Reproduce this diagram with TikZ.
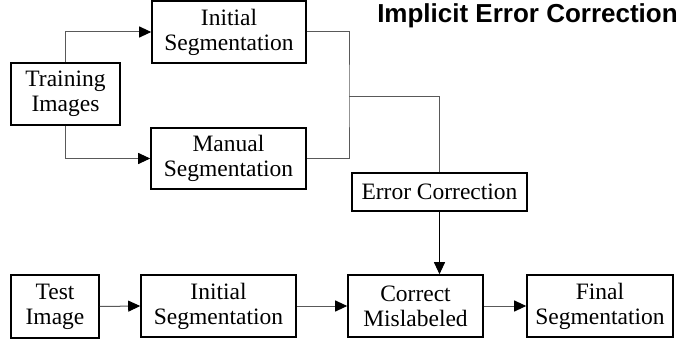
\documentclass[tikz,border=0pt]{standalone}
\usepackage{fontspec}
\setmainfont{Liberation Serif}
\newfontfamily\titlefont{Liberation Sans}
\usetikzlibrary{arrows.meta}
\begin{document}
\begin{tikzpicture}[x=1pt,y=-1pt,
  box/.style={draw=black,line width=1.6pt,align=center,inner sep=0pt,
    font=\fontsize{23.5}{25}\selectfont},
  conn/.style={draw=black!65,line width=1pt},
  arr/.style={conn,-{Triangle[length=12pt,width=11pt,color=black]}}]
\useasboundingbox (0,0) rectangle (689,342);
\node[anchor=base,font=\titlefont\bfseries\fontsize{26}{28}\selectfont] (title) at (527.5,23) {Implicit Error Correction};
\node[box,minimum width=109pt,minimum height=62pt] (train) at (65.5,94) {Training\\Images};
\node[box,minimum width=154pt,minimum height=62pt] (initT) at (229,32) {Initial\\Segmentation};
\node[box,minimum width=155pt,minimum height=61pt] (manual) at (228.5,158.5) {Manual\\Segmentation};
\node[box,minimum width=175pt,minimum height=38pt] (err) at (439.5,192) {Error Correction};
\node[box,minimum width=88pt,minimum height=63pt] (test) at (55,306.5) {Test\\Image};
\node[box,minimum width=155pt,minimum height=62pt] (initB) at (218.5,306) {Initial\\Segmentation};
\node[box,minimum width=135pt,minimum height=62pt] (corr) at (415.5,306) {Correct\\Mislabeled};
\node[box,minimum width=146pt,minimum height=62pt] (final) at (600,306) {Final\\Segmentation};
\coordinate (j) at (349,97);
\draw[arr] (train.north) |- (initT.west);
\draw[arr] (train.south) |- (manual.west);
\draw[conn] (initT.east) -| (j) |- (manual.east);
\draw[conn] (j) -| (err.north);
\draw[arr,draw=black] (err.south) -- (err.south |- corr.north);
\draw[arr] (test.east) -- (initB.west);
\draw[arr] (initB.east) -- (corr.west);
\draw[arr] (corr.east) -- (final.west);
\end{tikzpicture}
\end{document}
